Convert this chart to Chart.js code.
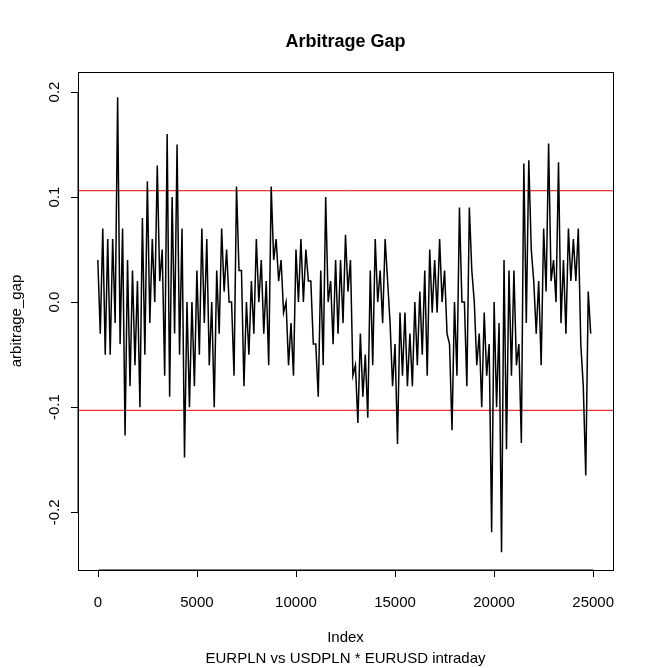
<!DOCTYPE html>
<html>
<head>
<meta charset="utf-8">
<script src="https://cdn.jsdelivr.net/npm/chart.js@4/dist/chart.umd.min.js"></script>
<style>
  body { margin: 0; background: #fff; }
  #wrap { width: 654px; height: 668px; }
</style>
</head>
<body>
<div id="wrap"><canvas id="grafico"></canvas></div>
<script>
const altos = [0.04,0.07,0.06,0.06,0.195,0.07,0.04,0.03,0.02,0.08,0.115,0.06,0.13,0.05,0.16,0.10,0.15,0.07,0.0,0.0,
  0.03,0.07,0.06,0.0,0.03,0.07,0.05,0.0,0.11,0.03,0.0,0.02,0.06,0.04,0.02,0.11,0.06,0.04,0.0,-0.02,
  0.05,0.06,0.05,0.02,-0.04,0.03,0.1,0.02,0.04,0.04,0.064,0.04,-0.06,-0.03,-0.05,0.03,0.06,0.03,0.06,-0.02,
  -0.04,-0.01,-0.01,-0.03,0.0,0.01,0.03,0.05,0.04,0.06,0.03,-0.04,0.0,0.09,0.0,0.09,0.0,-0.03,-0.01,-0.04,
  0.0,-0.02,0.04,0.03,0.03,-0.04,0.132,0.135,0.02,0.02,0.07,0.151,0.04,0.133,0.04,0.07,0.06,0.07,-0.08,0.01];
const baixos = [-0.03,-0.05,-0.05,-0.02,-0.04,-0.127,-0.08,-0.06,-0.1,-0.05,-0.02,0.0,0.02,-0.07,-0.09,-0.03,-0.05,-0.148,-0.10,-0.08,
  -0.05,-0.02,-0.06,-0.1,-0.03,0.01,0.0,-0.07,0.03,-0.08,-0.05,-0.03,0.0,-0.03,-0.06,0.04,0.02,-0.01,-0.06,-0.07,
  0.0,0.0,0.02,-0.04,-0.09,-0.06,0.0,-0.04,-0.03,-0.02,0.01,-0.07,-0.115,-0.09,-0.11,-0.06,0.0,-0.02,0.02,-0.08,
  -0.135,-0.07,-0.08,-0.08,-0.06,-0.05,-0.07,-0.01,-0.01,0.0,-0.03,-0.122,-0.07,0.0,-0.08,0.03,-0.06,-0.1,-0.07,-0.219,
  -0.1,-0.238,-0.14,-0.07,-0.06,-0.134,-0.02,0.05,-0.03,-0.06,0.01,0.02,0.0,-0.02,-0.03,0.02,0.02,-0.04,-0.165,-0.03];
const passo = 125;
const limiteSup = 0.106;
const limiteInf = -0.103;
const ticksX = [0, 5000, 10000, 15000, 20000, 25000];
const ticksY = [-0.2, -0.1, 0.0, 0.1, 0.2];

let pontos = [];
altos.forEach((a, i) => {
    pontos.push({ x: i * 2 * passo, y: a });
    pontos.push({ x: (i * 2 + 1) * passo, y: baixos[i] });
});

const eixosR = {
    id: "eixosR",
    afterDraw(chart) {
        const ctx = chart.ctx;
        const a = chart.chartArea;
        const sx = chart.scales.x, sy = chart.scales.y;
        ctx.save();
        ctx.strokeStyle = "#000";
        ctx.lineWidth = 1;
        ctx.strokeRect(a.left + 0.5, a.top + 0.5, a.right - a.left, a.bottom - a.top);
        ctx.fillStyle = "#000";
        ctx.font = "15px Arial, 'Liberation Sans'";
        // x axis
        ctx.beginPath();
        const x0 = Math.round(sx.getPixelForValue(ticksX[0])) + 0.5;
        const x1 = Math.round(sx.getPixelForValue(ticksX[ticksX.length - 1])) + 0.5;
        ctx.moveTo(x0, a.bottom); ctx.lineTo(x1, a.bottom);
        ticksX.forEach(t => {
            const px = Math.round(sx.getPixelForValue(t)) + 0.5;
            ctx.moveTo(px, a.bottom); ctx.lineTo(px, a.bottom + 7);
        });
        ctx.stroke();
        ctx.textAlign = "center";
        ctx.textBaseline = "middle";
        ticksX.forEach(t => ctx.fillText(String(t), sx.getPixelForValue(t), 603));
        // y axis
        ctx.beginPath();
        const y0 = Math.round(sy.getPixelForValue(ticksY[0])) + 0.5;
        const y1 = Math.round(sy.getPixelForValue(ticksY[ticksY.length - 1])) + 0.5;
        ctx.moveTo(a.left, y0); ctx.lineTo(a.left, y1);
        ticksY.forEach(t => {
            const py = Math.round(sy.getPixelForValue(t)) + 0.5;
            ctx.moveTo(a.left, py); ctx.lineTo(a.left - 7, py);
        });
        ctx.stroke();
        ticksY.forEach(t => {
            ctx.save();
            ctx.translate(55, sy.getPixelForValue(t));
            ctx.rotate(-Math.PI / 2);
            ctx.fillText(t.toFixed(1), 0, 0);
            ctx.restore();
        });
        ctx.fillText("Index", (a.left + a.right) / 2, 638);
        ctx.fillText("EURPLN vs USDPLN * EURUSD intraday", (a.left + a.right) / 2, 659);
        ctx.save();
        ctx.translate(17, (a.top + a.bottom) / 2);
        ctx.rotate(-Math.PI / 2);
        ctx.fillText("arbitrage_gap", 0, 0);
        ctx.restore();
        ctx.font = "bold 18px Arial, 'Liberation Sans'";
        ctx.fillText("Arbitrage Gap", (a.left + a.right) / 2, 42);
        ctx.restore();
    }
};

new Chart(document.getElementById("grafico"), {
    type: "line",
    data: {
        datasets: [
            { data: pontos, borderColor: "#000", borderWidth: 1.5, pointRadius: 0, tension: 0 },
            { data: [{ x: -1000, y: limiteSup }, { x: 26000, y: limiteSup }], borderColor: "#e00000", borderWidth: 1, pointRadius: 0 },
            { data: [{ x: -1000, y: limiteInf }, { x: 26000, y: limiteInf }], borderColor: "#e00000", borderWidth: 1, pointRadius: 0 }
        ]
    },
    options: {
        responsive: true,
        maintainAspectRatio: false,
        animation: false,
        layout: { padding: { left: 78, top: 72, right: 41, bottom: 98 } },
        plugins: { legend: { display: false }, tooltip: { enabled: false } },
        scales: {
            x: { type: "linear", min: -1000, max: 26000, display: false },
            y: { min: -0.255, max: 0.219, display: false }
        }
    },
    plugins: [eixosR]
});
</script>
</body>
</html>
